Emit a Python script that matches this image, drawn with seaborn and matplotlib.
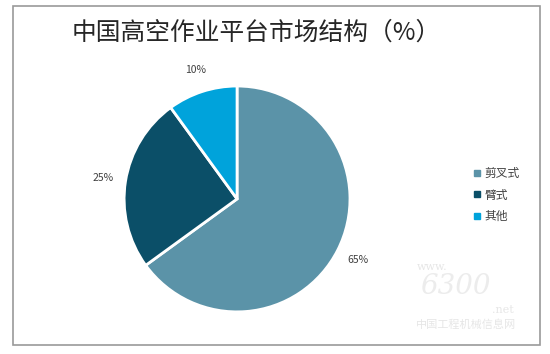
import matplotlib
matplotlib.use("Agg")
import matplotlib.pyplot as plt
import seaborn as sns
from matplotlib.patches import Rectangle
from matplotlib.lines import Line2D

categories = ["剪叉式", "臂式", "其他"]
values = [65, 25, 10]
colors = ["#5B93A8", "#0B4F68", "#00A3DB"]
title = "中国高空作业平台市场结构（%）"

sns.set_theme(style="white")
plt.rcParams['font.family'] = ['Noto Sans CJK SC', 'DejaVu Sans']

fig = plt.figure(figsize=(5.5, 3.54), dpi=100)
fig.patch.set_facecolor("white")

# outer border
fig.add_artist(Rectangle((13/550, 1-345/354), (540-13)/550, (345-6)/354,
                         transform=fig.transFigure, fill=False,
                         edgecolor="#9a9a9a", linewidth=1.2))

ax = fig.add_axes([0.2255, 0.119, 0.411, 0.638])
wedges, texts, autotexts = ax.pie(
    values, colors=colors, startangle=90, counterclock=False,
    autopct=lambda p: f"{p:.0f}%", pctdistance=1.2,
    wedgeprops=dict(edgecolor="white", linewidth=2),
    textprops=dict(fontsize=7.5, color="#404040"))
ax.set_xlim(-1, 1)
ax.set_ylim(-1, 1)
ax.set_aspect("equal")

fig.text(256/550, 1-33/354, title, ha="center", va="center",
         fontsize=17.8, color="#262626")

handles = [Line2D([0], [0], marker="s", linestyle="none", markersize=5,
                  markerfacecolor=c, markeredgecolor=c) for c in colors]
fig.legend(handles, categories, loc="center left",
           bbox_to_anchor=(460/550, 1-195/354), frameon=False,
           fontsize=8.5, handletextpad=0.2, labelspacing=0.7,
           handlelength=1.0, labelcolor="#404040")

# watermark
fig.text(432/550, 1-267/354, "www.", fontsize=8, color="#e6e6e6",
         family="DejaVu Serif", ha="center", va="center")
fig.text(455/550, 1-287/354, "6300", fontsize=20, color="#ececec",
         family="DejaVu Serif", style="italic", ha="center", va="center")
fig.text(503/550, 1-310/354, ".net", fontsize=8, color="#e6e6e6",
         family="DejaVu Serif", ha="center", va="center")
fig.text(466/550, 1-325/354, "中国工程机械信息网", fontsize=8, color="#e6e6e6",
         ha="center", va="center")

fig.savefig("out.png", dpi=100)
